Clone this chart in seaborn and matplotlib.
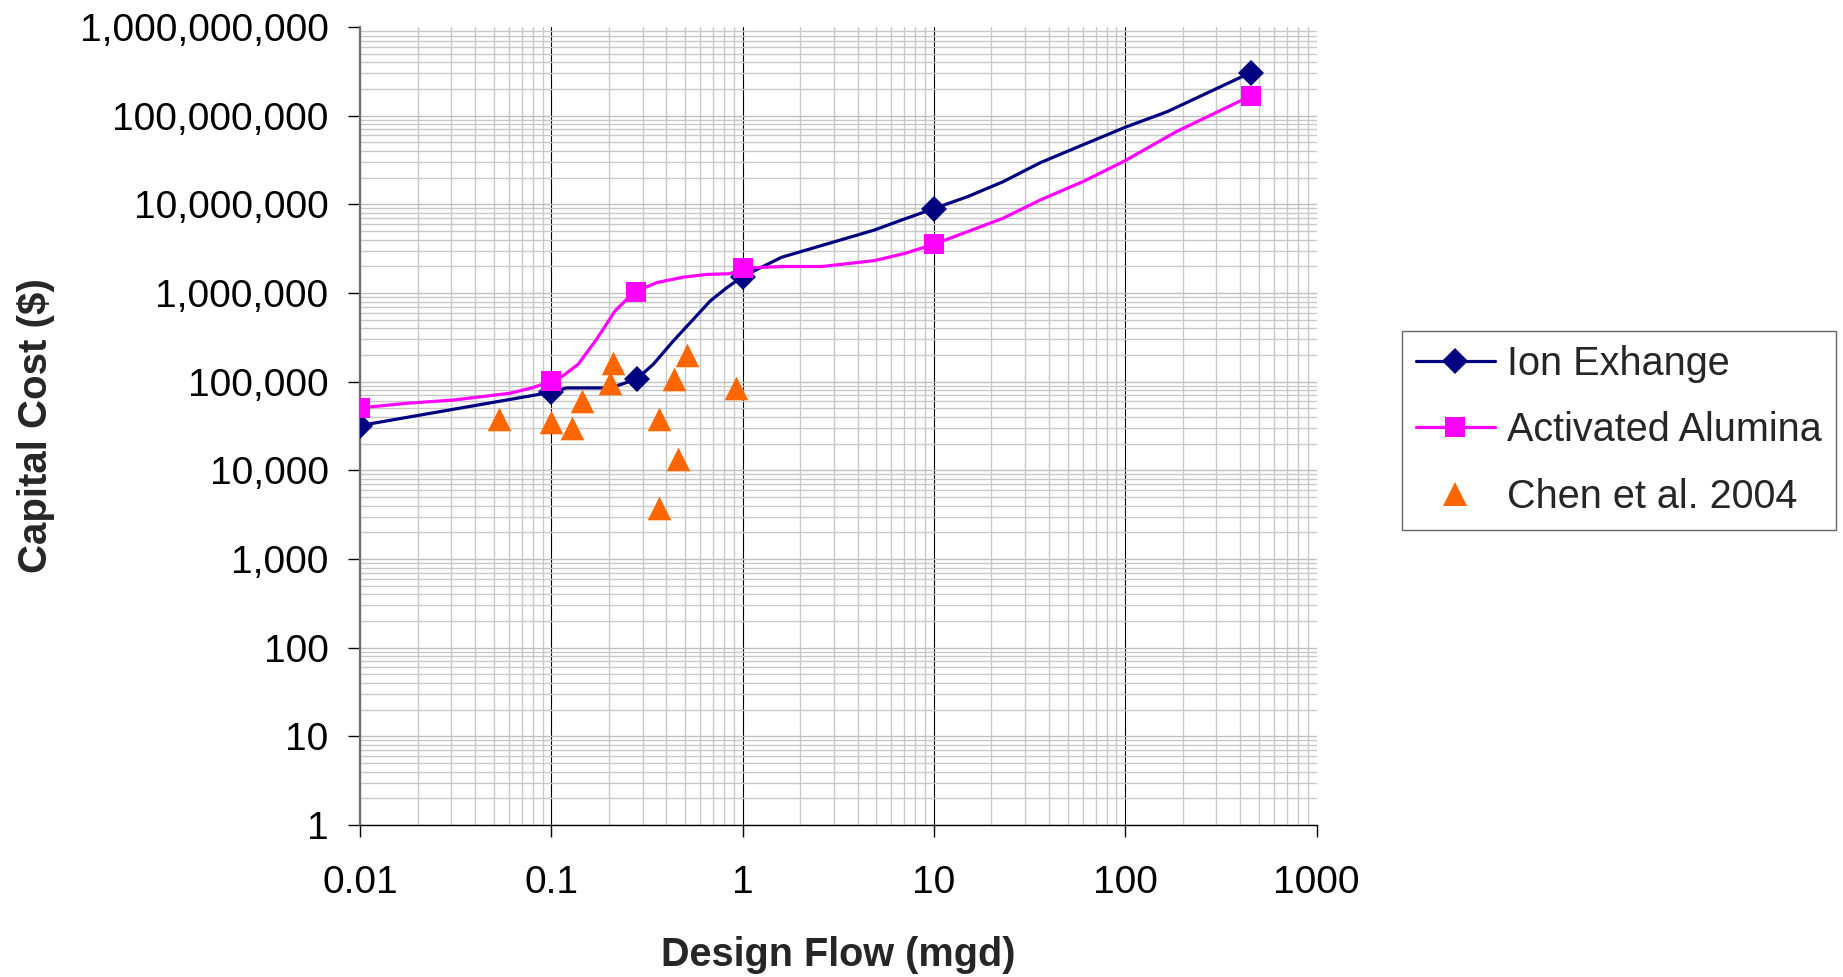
import matplotlib
matplotlib.use("Agg")
import matplotlib.pyplot as plt
from matplotlib.lines import Line2D
from matplotlib.ticker import FixedLocator, LogLocator, FuncFormatter, NullFormatter
import seaborn as sns
import pandas as pd

# ---- data ----
ix_flow = [0.01, 0.1, 0.12, 0.2, 0.229, 0.28, 0.342, 0.435, 0.553, 0.677, 0.828, 1.0,
           1.6, 4.9, 6.8, 10, 15, 23, 36, 57, 100, 166, 453]
ix_cost = [32000, 76000, 85000, 85000, 92500, 107000, 158000, 289000, 506000, 813000,
           1150000, 1530000, 2530000, 5140000, 6670000, 8950000, 12200000, 18000000,
           29500000, 44700000, 74000000, 111000000, 306000000]
ix_marker_flow = [0.01, 0.1, 0.28, 1.0, 10, 453]

aa_flow = [0.01, 0.0175, 0.0307, 0.0608, 0.0806, 0.1, 0.1156, 0.1385, 0.1725, 0.2155,
           0.258, 0.277, 0.356, 0.491, 0.65, 0.86, 1.0, 1.6, 2.6, 4.9, 7.1, 10, 15, 23,
           36, 60, 100, 185, 453]
aa_cost = [50600, 57000, 62000, 74000, 86000, 101000, 117000, 158000, 301000, 628000,
           925000, 1035000, 1310000, 1510000, 1620000, 1650000, 1900000, 1990000, 1990000,
           2320000, 2810000, 3550000, 4920000, 6970000, 11200000, 18000000, 31100000,
           66000000, 167000000]
aa_marker_flow = [0.01, 0.1, 0.277, 1.0, 10, 453]

chen_flow = [0.053, 0.1, 0.129, 0.145, 0.21, 0.202, 0.367, 0.366, 0.44, 0.458, 0.511, 0.927]
chen_cost = [38000, 35000, 30000, 61000, 161000, 97700, 37900, 3800, 106000, 13500, 201000, 84000]

series_names = ["Ion Exhange", "Activated Alumina", "Chen et al. 2004"]
y_ticks = [1, 10, 100, 1000, 1e4, 1e5, 1e6, 1e7, 1e8, 1e9]
x_ticks = [0.01, 0.1, 1, 10, 100, 1000]

# ---- style ----
sns.set_theme(style="white")
plt.rcParams["font.family"] = ["Liberation Sans", "DejaVu Sans"]

NAVY = "#000080"
MAGENTA = "#FF00FF"
ORANGE = "#FF6600"
LW = 2.3
D_MS = 13.5
S_MS = 15
T_MS = 17

fig = plt.figure(figsize=(18.43, 9.77), dpi=100)
ax = fig.add_axes([360 / 1843, 1 - 825 / 977, (1316.5 - 360) / 1843, (825 - 27) / 977])

ix_df = pd.DataFrame({"flow": ix_flow, "cost": ix_cost})
aa_df = pd.DataFrame({"flow": aa_flow, "cost": aa_cost})
chen_df = pd.DataFrame({"flow": chen_flow, "cost": chen_cost})

ix_idx = [ix_flow.index(v) for v in ix_marker_flow]
aa_idx = [aa_flow.index(v) for v in aa_marker_flow]

sns.lineplot(data=ix_df, x="flow", y="cost", ax=ax, color=NAVY, lw=LW,
             sort=False, estimator=None, marker="D", markersize=D_MS,
             markevery=ix_idx, markeredgewidth=0, zorder=3)
sns.lineplot(data=aa_df, x="flow", y="cost", ax=ax, color=MAGENTA, lw=LW,
             sort=False, estimator=None, marker="s", markersize=S_MS,
             markevery=aa_idx, markeredgewidth=0, zorder=4)
sns.scatterplot(data=chen_df, x="flow", y="cost", ax=ax, color=ORANGE, marker="^",
                s=T_MS ** 2, linewidth=0, zorder=5)

ax.set_xscale("log")
ax.set_yscale("log")
ax.set_xlim(0.01, 1000)
ax.set_ylim(1, 1e9)

ax.xaxis.set_major_locator(FixedLocator(x_ticks))
ax.yaxis.set_major_locator(FixedLocator(y_ticks))
ax.xaxis.set_minor_locator(LogLocator(base=10, subs=range(2, 10), numticks=20))
ax.yaxis.set_minor_locator(LogLocator(base=10, subs=range(2, 10), numticks=20))
ax.xaxis.set_major_formatter(FuncFormatter(lambda v, p: f"{v:g}"))
ax.yaxis.set_major_formatter(FuncFormatter(lambda v, p: f"{v:,.0f}"))
ax.xaxis.set_minor_formatter(NullFormatter())
ax.yaxis.set_minor_formatter(NullFormatter())

ax.tick_params(axis="both", which="major", direction="out", length=8.6, width=1,
               color="black", labelsize=28, labelcolor="black")
ax.tick_params(axis="x", which="major", pad=20)
ax.tick_params(axis="y", which="major", pad=14)
ax.tick_params(axis="both", which="minor", length=0)
ax.xaxis.set_ticks_position("bottom")
ax.yaxis.set_ticks_position("left")

ax.set_axisbelow(True)
ax.grid(axis="x", which="major", color="black", lw=0.8)
ax.grid(axis="y", which="major", color="#c0c0c0", lw=1.0)
ax.grid(axis="both", which="minor", color="#c8c8c8", lw=1.0)

ax.xaxis.get_major_ticks()[-1].gridline.set_visible(False)
ax.yaxis.get_major_ticks()[-1].gridline.set_visible(False)

for side in ["top", "right"]:
    ax.spines[side].set_visible(False)
ax.spines["left"].set_color("#707070")
ax.spines["left"].set_linewidth(1.6)
ax.spines["bottom"].set_color("black")
ax.spines["bottom"].set_linewidth(1.0)

ax.set_xlabel("")
ax.set_ylabel("")

fig.text(838 / 1843, 1 - 966 / 977, "Design Flow (mgd)", fontsize=28.5,
         fontweight="bold", ha="center", va="baseline")
fig.text(36 / 1843, 1 - 426 / 977, "Capital Cost ($)", fontsize=29,
         fontweight="bold", ha="center", va="center", rotation=90)

handles = [
    Line2D([], [], color=NAVY, lw=LW, marker="D", markersize=D_MS, markeredgewidth=0),
    Line2D([], [], color=MAGENTA, lw=LW, marker="s", markersize=S_MS, markeredgewidth=0),
    Line2D([], [], color=ORANGE, lw=0, marker="^", markersize=T_MS, markeredgewidth=0),
]
leg = fig.legend(handles, series_names, loc="upper left",
                 bbox_to_anchor=(1402 / 1843, 1 - 331 / 977), borderaxespad=0,
                 fontsize=28.5, frameon=True, fancybox=False, shadow=False,
                 borderpad=0.35, handlelength=2.0, handletextpad=0.3,
                 labelspacing=0.72)
leg.get_frame().set_edgecolor("#404040")
leg.get_frame().set_linewidth(1.0)
leg.get_frame().set_facecolor("white")

fig.savefig("out.png", dpi=100, facecolor="white")
